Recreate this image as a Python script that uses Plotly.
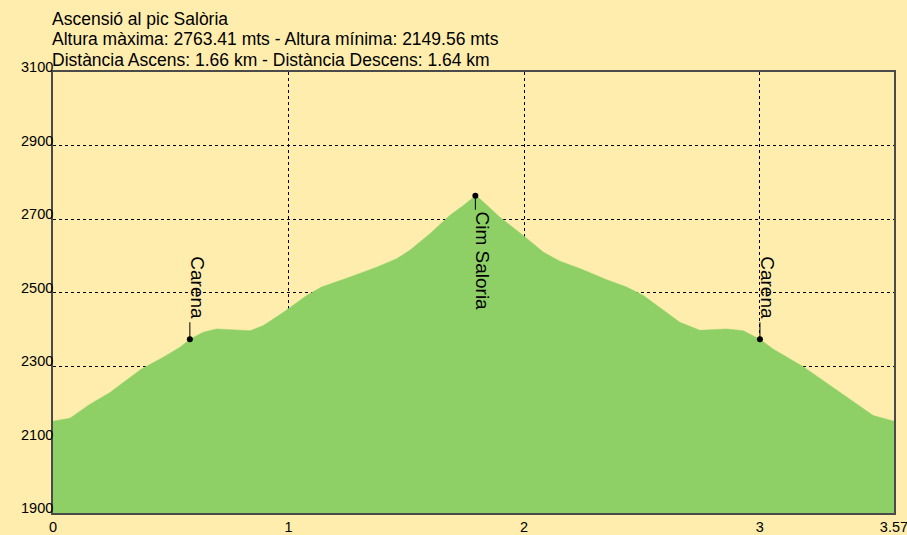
import plotly.graph_objects as go

# Elevation profile (distance in km, elevation in m)
dist_km = [0.000, 0.072, 0.157, 0.242, 0.298, 0.376, 0.468, 0.539, 0.581, 0.638,
           0.695, 0.765, 0.836, 0.893, 0.978, 1.077, 1.140, 1.261, 1.374, 1.459,
           1.515, 1.600, 1.685, 1.742, 1.793, 1.812, 1.897, 1.996, 2.081, 2.152,
           2.237, 2.350, 2.435, 2.506, 2.605, 2.661, 2.746, 2.803, 2.859, 2.930,
           2.972, 3.001, 3.057, 3.185, 3.270, 3.383, 3.482, 3.570]
elev_m = [2150, 2158, 2196, 2228, 2255, 2292, 2324, 2351, 2373, 2392,
          2401, 2399, 2396, 2410, 2446, 2492, 2515, 2542, 2569, 2592,
          2615, 2660, 2710, 2737, 2763, 2755, 2705, 2655, 2610, 2585,
          2565, 2535, 2515, 2492, 2446, 2419, 2397, 2399, 2401, 2396,
          2383, 2373, 2346, 2298, 2260, 2210, 2165, 2150]

# Points of interest
poi_names = ["Carena", "Cim Saloria", "Carena"]
poi_km = [0.581, 1.793, 3.001]
poi_elev = [2373, 2763, 2373]
poi_up = [True, False, True]

# Axis ticks
x_ticks = [0, 1, 2, 3, 3.57]
x_ticktext = ["0", "1", "2", "3", "3.57"]
y_ticks = [1900, 2100, 2300, 2500, 2700, 2900, 3100]

title_lines = [
    "Ascensió al pic Salòria",
    "Altura màxima: 2763.41 mts - Altura mínima: 2149.56 mts",
    "Distància Ascens: 1.66 km - Distància Descens: 1.64 km",
]

BG = "#FFEDAE"
GREEN = "#8ED066"
FONT = "Liberation Sans, Arial, sans-serif"

W, H = 907, 535
ML, MR, MT, MB = 53, 13, 72, 22
PH = H - MT - MB

x_max = max(dist_km)
conn_up, conn_down = 46, 38  # connector line lengths (data units)

fig = go.Figure()
fig.add_trace(go.Scatter(
    x=dist_km, y=elev_m, mode="lines", fill="tozeroy",
    fillcolor=GREEN, line=dict(color=GREEN, width=0.5),
    hoverinfo="x+y", showlegend=False,
))
fig.add_trace(go.Scatter(
    x=poi_km, y=poi_elev, mode="markers",
    marker=dict(color="black", size=6),
    error_y=dict(type="data", symmetric=False,
                 array=[conn_up if u else 0 for u in poi_up],
                 arrayminus=[0 if u else conn_down for u in poi_up],
                 width=0, thickness=1, color="black"),
    showlegend=False, hoverinfo="text", text=poi_names,
))

for name, xk, ye, up in zip(poi_names, poi_km, poi_elev, poi_up):
    fig.add_annotation(
        x=xk, y=ye, text=name, textangle=90, showarrow=False,
        xanchor="left", yanchor="bottom" if up else "top",
        xshift=-4, yshift=19 if up else -15, borderpad=0,
        font=dict(family=FONT, size=19, color="black"),
    )

# Y tick labels (sitting just above each gridline, right-aligned to the axis)
for v in y_ticks:
    fig.add_annotation(
        x=0, xref="paper", y=v, yref="y", text=str(v), showarrow=False,
        xanchor="right", yanchor="bottom", xshift=1, yshift=-4, borderpad=0,
        font=dict(family=FONT, size=14.5, color="black"),
    )

# Title lines
title_centers_px = [18.5, 39, 59.5]
for line, cy in zip(title_lines, title_centers_px):
    fig.add_annotation(
        x=0, xref="paper", y=1 + (MT - cy) / PH, yref="paper",
        text=line, showarrow=False, xanchor="left", yanchor="middle",
        xshift=-2, borderpad=0,
        font=dict(family=FONT, size=17.5, color="black"),
    )

fig.update_layout(
    width=W, height=H,
    margin=dict(l=ML, r=MR, t=MT, b=MB),
    paper_bgcolor=BG, plot_bgcolor=BG,
    xaxis=dict(
        range=[0, x_max + 1e-4], tickvals=x_ticks, ticktext=x_ticktext,
        showgrid=True, gridcolor="black", griddash="3px,3px", gridwidth=1,
        showline=True, mirror=True, linecolor="#4a4a4a", linewidth=2,
        ticks="", zeroline=False, automargin=False, ticklabeloverflow="allow",
        tickfont=dict(family=FONT, size=14.5, color="black"),
    ),
    yaxis=dict(
        range=[1900, 3100], tickvals=y_ticks, showticklabels=False,
        showgrid=True, gridcolor="black", griddash="3px,3px", gridwidth=1,
        showline=True, mirror=True, linecolor="#4a4a4a", linewidth=2,
        ticks="", zeroline=False, automargin=False,
    ),
)

fig.write_html(
    "out.html",
    config={"displayModeBar": False},
    post_script="document.body.style.margin='0';"
                "document.body.style.overflow='hidden';"
                "document.body.style.background='" + BG + "';",
)
